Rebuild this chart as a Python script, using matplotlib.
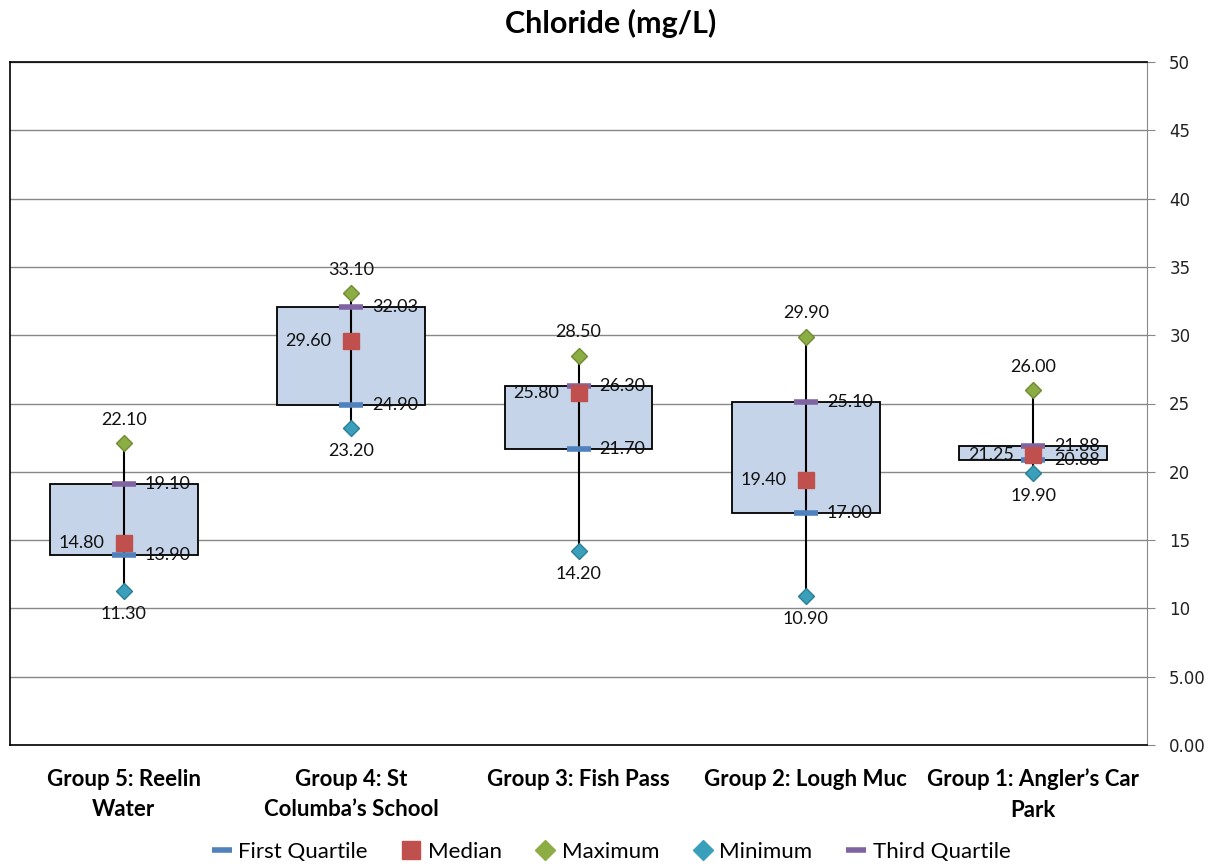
import matplotlib.pyplot as plt
from matplotlib.patches import Rectangle
from matplotlib.lines import Line2D
import numpy as np

# chloride summary per site
groups = ['Group 5: Reelin\nWater', 'Group 4: St\nColumba\u2019s School',
          'Group 3: Fish Pass', 'Group 2: Lough Muc',
          'Group 1: Angler\u2019s Car\nPark']
minimum = [11.30, 23.20, 14.20, 10.90, 19.90]
first_q = [13.90, 24.90, 21.70, 17.00, 20.88]
median = [14.80, 29.60, 25.80, 19.40, 21.25]
third_q = [19.10, 32.03, 26.30, 25.10, 21.88]
maximum = [22.10, 33.10, 28.50, 29.90, 26.00]
yticks = [0, 5, 10, 15, 20, 25, 30, 35, 40, 45, 50]
ytick_labels = ['0.00', '5.00', '10', '15', '20', '25', '30', '35', '40', '45', '50']

c_q1 = '#4f81bd'
c_med = '#c0504d'
c_max = '#8cac44'
c_min = '#3a9fba'
c_q3 = '#8064a2'

plt.rcParams['font.family'] = ['Lato', 'DejaVu Sans']

fig = plt.figure(figsize=(12.22, 8.67), dpi=100)
ax = fig.add_axes([10 / 1222, 122 / 867, 1137 / 1222, 683 / 867])

x = np.arange(len(groups))
box_w = 0.65

for i in x:
    ax.add_patch(Rectangle((i - box_w / 2, first_q[i]), box_w, third_q[i] - first_q[i],
                           facecolor='#c5d4e9', edgecolor='black', lw=1.3, zorder=2))
    ax.plot([i, i], [minimum[i], maximum[i]], color='black', lw=1.5, zorder=3)

ax.plot(x, first_q, ls='none', marker='_', ms=17, mew=4, color=c_q1, zorder=4)
ax.plot(x, third_q, ls='none', marker='_', ms=17, mew=4, color=c_q3, zorder=4)
ax.plot(x, median, ls='none', marker='s', ms=11, color=c_med, zorder=5)
ax.plot(x, maximum, ls='none', marker='D', ms=8.5, color=c_max, mec='#6e8c30', zorder=5)
ax.plot(x, minimum, ls='none', marker='D', ms=8.5, color=c_min, mec='#2c7f96', zorder=5)

lab = dict(fontsize=13, color='#111111', zorder=6)
for i in x:
    ax.annotate(f'{maximum[i]:.2f}', (i, maximum[i]), xytext=(0, 11),
                textcoords='offset points', ha='center', va='bottom', **lab)
    ax.annotate(f'{minimum[i]:.2f}', (i, minimum[i]), xytext=(0, -11),
                textcoords='offset points', ha='center', va='top', **lab)
    ax.annotate(f'{third_q[i]:.2f}', (i, third_q[i]), xytext=(15, 0),
                textcoords='offset points', ha='left', va='center', **lab)
    ax.annotate(f'{first_q[i]:.2f}', (i, first_q[i]), xytext=(15, 0),
                textcoords='offset points', ha='left', va='center', **lab)
    ax.annotate(f'{median[i]:.2f}', (i, median[i]), xytext=(-14, 0),
                textcoords='offset points', ha='right', va='center', **lab)

ax.set_xlim(-0.5, len(groups) - 0.5)
ax.set_ylim(0, 50)
ax.set_yticks(yticks)
ax.set_yticklabels(ytick_labels, fontsize=12, family='DejaVu Sans', color='#222222')
ax.yaxis.tick_right()
ax.tick_params(axis='y', direction='out', length=6, color='#888888', pad=10)
ax.grid(axis='y', color='#888888', lw=1)
ax.set_axisbelow(True)

ax.set_xticks(x)
ax.set_xticklabels(groups, fontsize=16, fontweight='bold', va='top', linespacing=1.55)
ax.tick_params(axis='x', length=0, pad=17)

for s in ['left', 'top', 'bottom']:
    ax.spines[s].set_color('black')
    ax.spines[s].set_linewidth(1.2)
ax.spines['right'].set_color('#888888')

fig.suptitle('Chloride (mg/L)', fontsize=22, fontweight='bold', y=0.99, va='top')

handles = [
    Line2D([], [], ls='none', marker='_', ms=15, mew=4, color=c_q1),
    Line2D([], [], ls='none', marker='s', ms=13, color=c_med),
    Line2D([], [], ls='none', marker='D', ms=10, color=c_max),
    Line2D([], [], ls='none', marker='D', ms=10, color=c_min),
    Line2D([], [], ls='none', marker='_', ms=15, mew=4, color=c_q3),
]
names = ['First Quartile', 'Median', 'Maximum', 'Minimum', 'Third Quartile']
fig.legend(handles, names, loc='center', bbox_to_anchor=(0.5, 15 / 867), ncol=5,
           frameon=False, fontsize=16, handlelength=0.9, handletextpad=0.3,
           columnspacing=1.5)

fig.savefig('out.png', dpi=100, facecolor='white')
